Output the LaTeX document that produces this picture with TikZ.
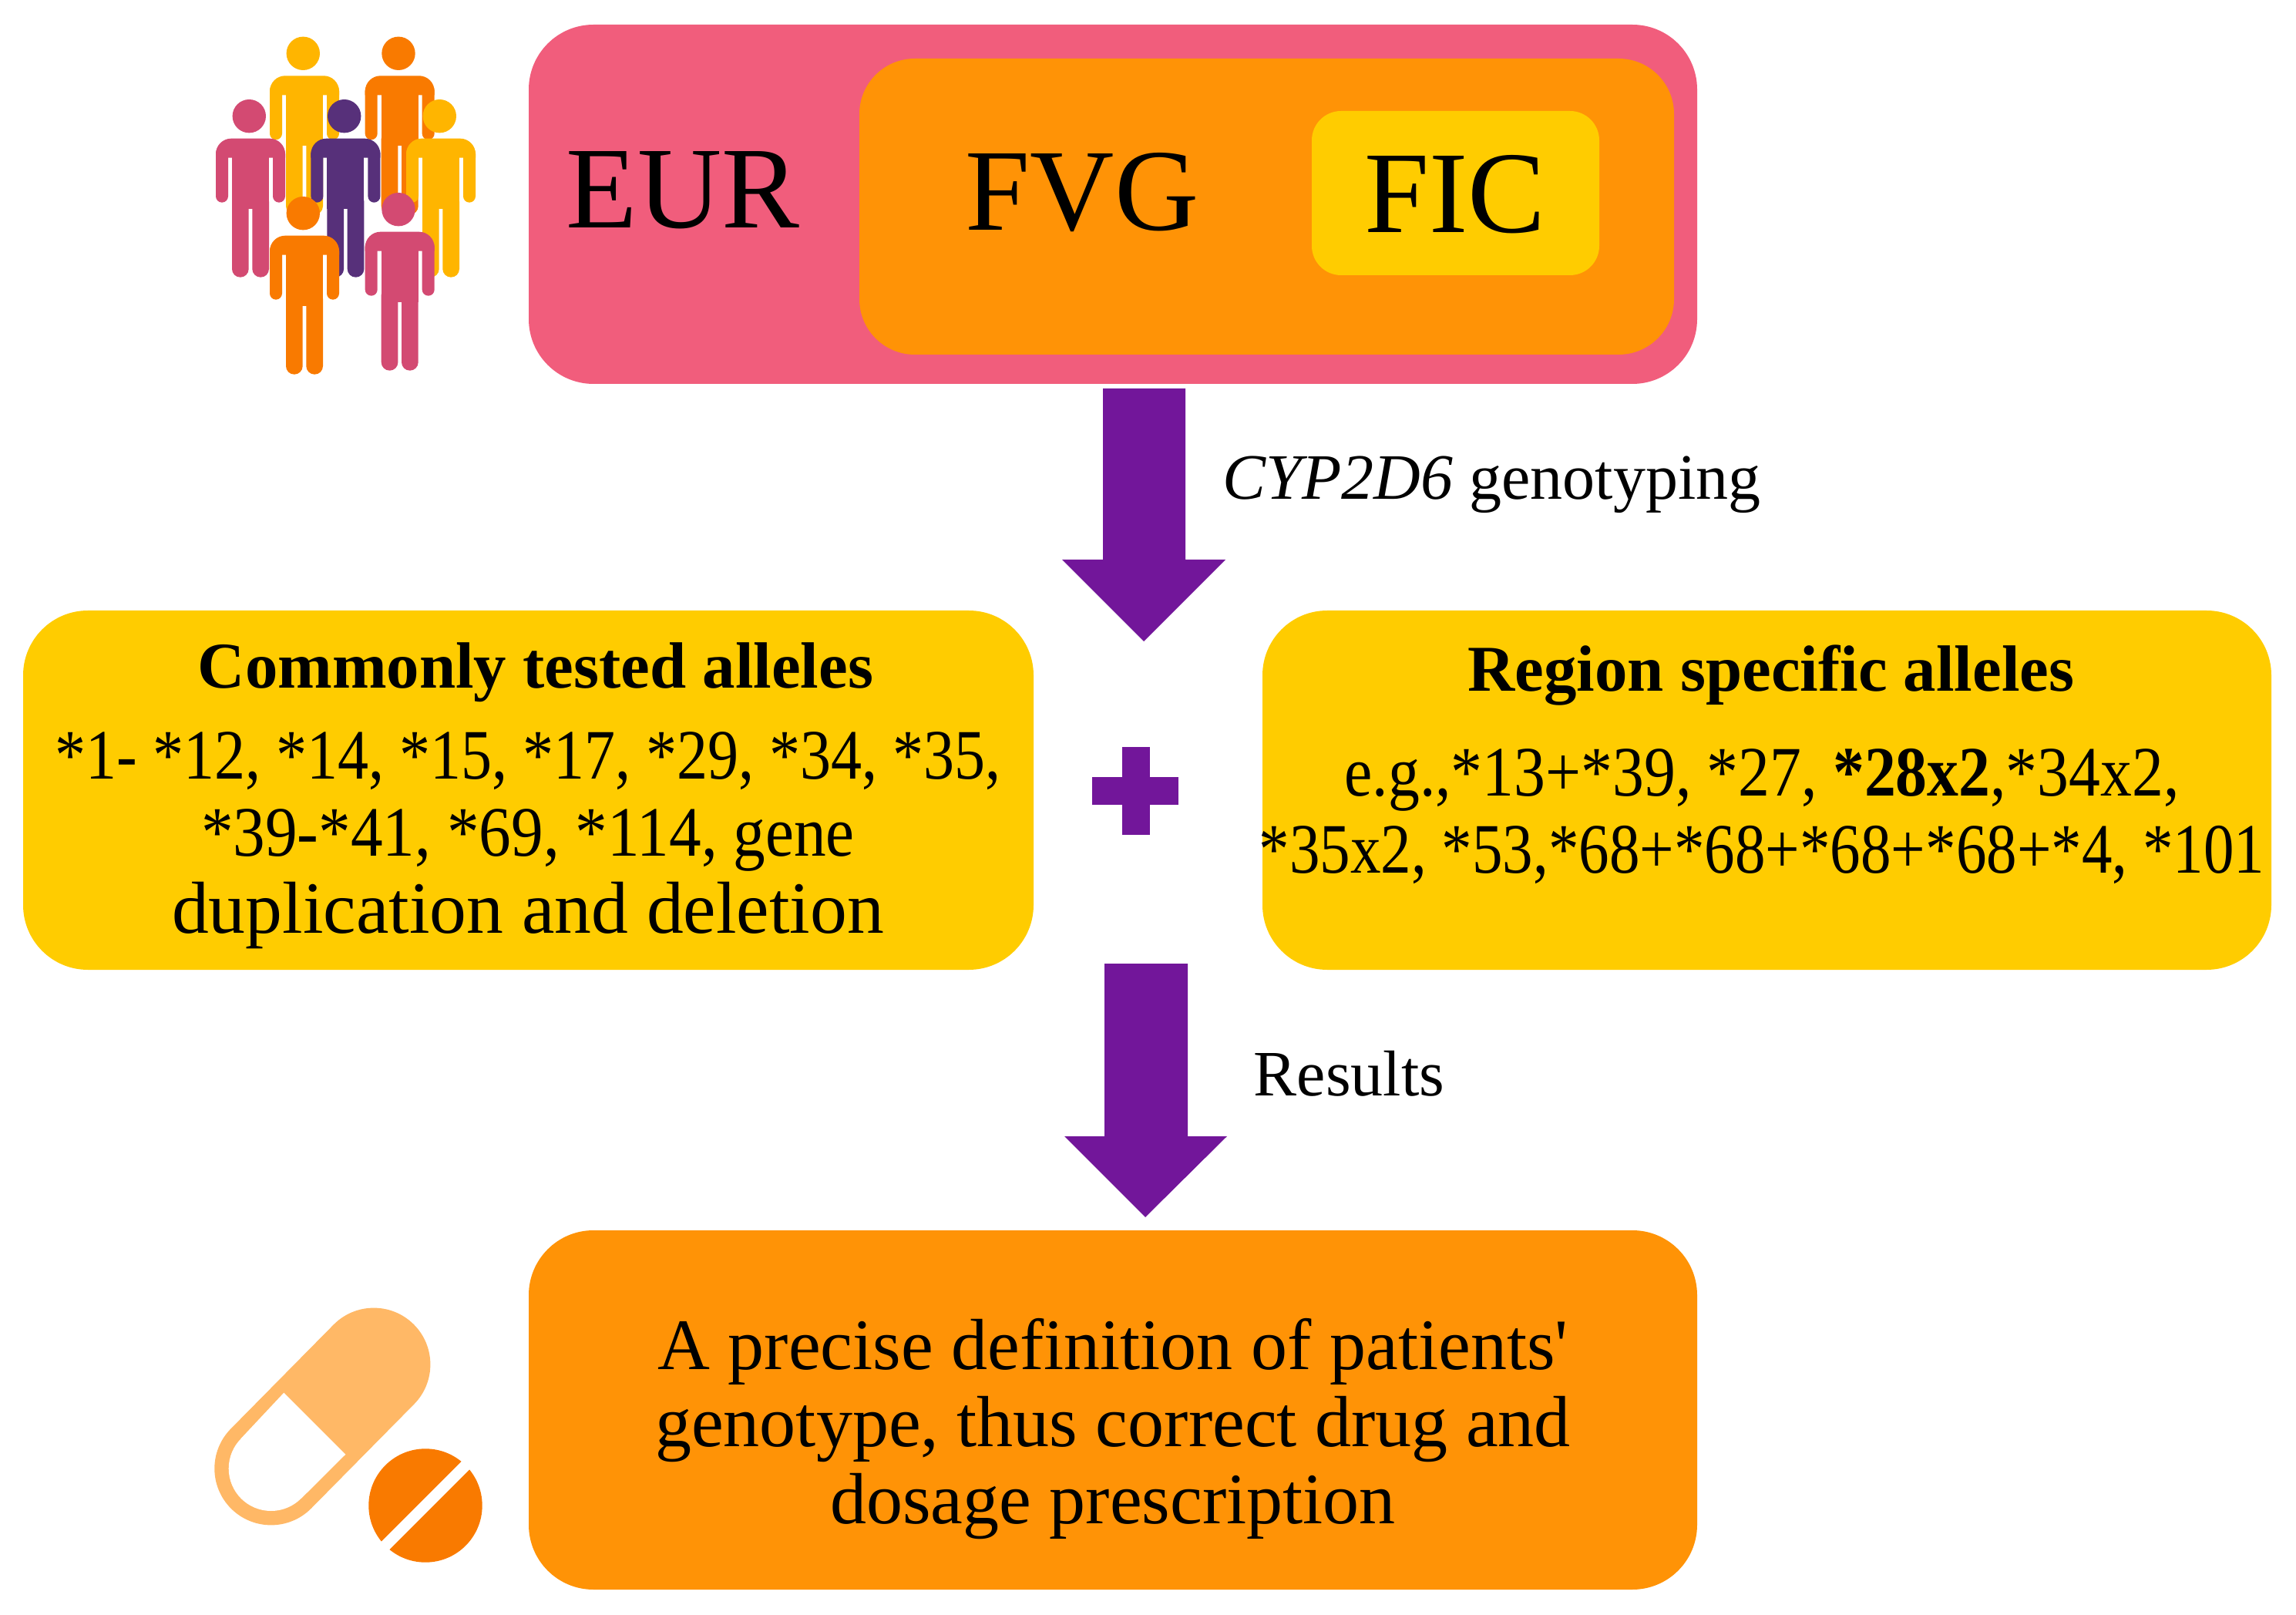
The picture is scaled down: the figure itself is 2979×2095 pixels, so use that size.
\documentclass[tikz,border=0pt]{standalone}
\usepackage{fontspec}
\setmainfont{Liberation Serif}
\newfontfamily\condA[FakeStretch=0.87]{Liberation Serif}
\newfontfamily\condB[FakeStretch=0.905]{Liberation Serif}
\newfontfamily\condC[FakeStretch=0.888]{Liberation Serif}
\newfontfamily\condD[FakeStretch=0.859]{Liberation Serif}
\definecolor{eurc}{HTML}{F15D7C}
\definecolor{fvgc}{HTML}{FF9306}
\definecolor{ficc}{HTML}{FFCC00}
\definecolor{arrowc}{HTML}{72169A}
\definecolor{pilll}{HTML}{FFB866}
\definecolor{orgd}{HTML}{F97A00}
\definecolor{yelp}{HTML}{FFB500}
\definecolor{pinkp}{HTML}{D34A72}
\definecolor{purpp}{HTML}{57307A}
\newcommand{\fsz}[1]{\fontsize{#1}{25}\selectfont}
\newcommand{\person}[3]{%
  \begin{scope}[shift={(#1,#2)},#3]
    \fill (-1.7,0) circle[radius=21.7];
    \fill (-45,54) -- (-45,49) .. controls (-45,38) and (-36,29) .. (-25,29) -- (25,29) .. controls (36,29) and (45,38) .. (45,49) -- (45,54) -- cycle;
    \fill[rounded corners=2pt] (-45,40) rectangle (-29,112);
    \fill[rounded corners=2pt] (29,40) rectangle (45,112);
    \fill (-24,40) rectangle (24,120);
    \fill[rounded corners=2.7pt] (-24,100) rectangle (-2.3,209);
    \fill[rounded corners=2.7pt] (2.3,100) rectangle (24,209);
  \end{scope}}
\tikzset{
  x=0.25pt,y=-0.25pt,
  boxA/.style={draw=none,rounded corners=21pt,inner sep=0pt,outer sep=0pt,minimum height=116.5pt},
  bigtxt/.style={font=\fsz{37.8},text=black,inner sep=0pt},
  bodytxt/.style={font=\fsz{23},align=center,text=black,inner sep=0pt},
  titletxt/.style={font=\fsz{21.2}\bfseries,text=black,inner sep=0pt},
  lbl/.style={font=\fsz{21},text=black,inner sep=0pt},
  blockarrow/.style={fill=arrowc,draw=none}
}
\begin{document}
\begin{tikzpicture}
\useasboundingbox (0,0) rectangle (2979,2095);
% people
\person{395}{69.3}{yelp}
\person{518.7}{69.3}{orgd}
\person{325}{150.7}{pinkp}
\person{448.4}{150.7}{purpp}
\person{572}{150.7}{yelp}
\person{395}{276.7}{orgd}
\person{518.7}{271.7}{pinkp}
% boxes
\node[boxA,fill=eurc,minimum width=379pt] (eur) at (1444,265) {};
\node[boxA,fill=fvgc,rounded corners=18pt,minimum width=264.25pt,minimum height=96pt] (fvg) at (1643.5,268) {};
\node[boxA,fill=ficc,rounded corners=9.5pt,minimum width=93.25pt,minimum height=53.25pt] (fic) at (1888.5,250.5) {};
\node[bigtxt] (eurt) at (886,247) {EUR};
\node[bigtxt] (fvgt) at (1404,250) {FVG};
\node[bigtxt] (fict) at (1888,252) {FIC};
\node[boxA,fill=ficc,minimum width=327.75pt] (left) at (685.5,1025) {};
\node[boxA,fill=ficc,minimum width=327.25pt] (right) at (2292.5,1025) {};
\node[boxA,fill=fvgc,minimum width=379pt] (result) at (1444,1829) {};
% arrows
\fill[blockarrow] (1431,504) -- (1538,504) -- (1538,726) -- (1590,726) -- (1484,832) -- (1378,726) -- (1431,726) -- cycle;
\fill[blockarrow] (1433,1250) -- (1541,1250) -- (1541,1474) -- (1592,1474) -- (1486,1579) -- (1381,1474) -- (1433,1474) -- cycle;
% plus
\fill[blockarrow] (1456,969) rectangle (1492,1083);
\fill[blockarrow] (1417,1008) rectangle (1529,1044);
% labels
\node[lbl,anchor=base west] (geno) at (1586,648) {\textit{CYP2D6} genotyping};
\node[lbl,anchor=base west] (res) at (1626,1421) {Results};
% left text
\node[titletxt] (ltitle) at (695,872) {Commonly tested alleles};
\node[bodytxt] (lbody) at (685,1090) {\condA *1- *12, *14, *15, *17, *29, *34, *35,\\\condB *39-*41, *69, *114, gene\\\rmfamily\fontsize{23.9}{25}\selectfont duplication and deletion};
% right text
\node[titletxt] (rtitle) at (2298,876) {Region specific alleles};
\node[bodytxt] (rbody) at (2286,1059) {\condC e.g.,*13+*39, *27, \textbf{*28x2},*34x2,\\\condD *35x2, *53,*68+*68+*68+*68+*4, *101};
% result text
\node[bodytxt,font=\fsz{23.5}] (rtext) at (1444,1854) {A precise definition of patients\textquotesingle\\genotype, thus correct drug and\\dosage prescription};
% pill
\draw[pilll,line width=36.7pt,line cap=round] (351.7,1905) -- (485,1770);
\fill[white] (351.7,1905) circle[radius=55];
\fill[white] (312.7,1866) -- (390.7,1944) -- (448.3,1886.7) -- (368.3,1806.7) -- cycle;
% tablet
\fill[orgd] (552,1953) circle[radius=73.7];
\draw[white,line width=3.7pt] (495,2010) -- (609,1896);
\end{tikzpicture}
\end{document}
